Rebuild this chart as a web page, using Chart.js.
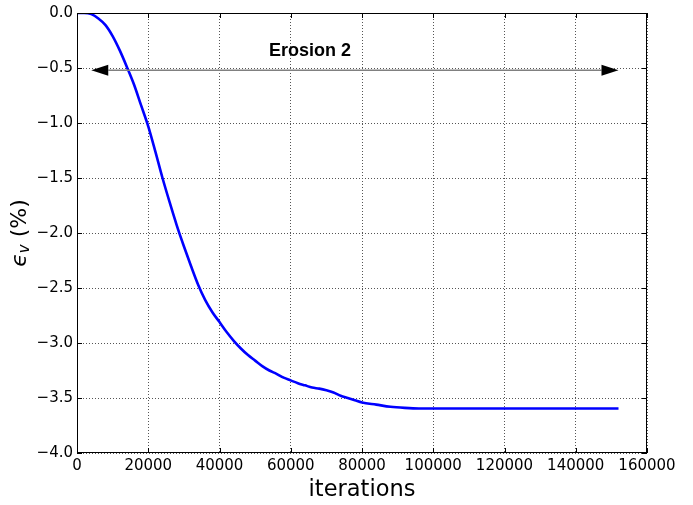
<!DOCTYPE html>
<html>
<head>
<meta charset="utf-8">
<script src="https://cdn.jsdelivr.net/npm/chart.js@4/dist/chart.umd.min.js"></script>
<style>
  html, body { margin: 0; padding: 0; background: #fff; }
  #chart { display: block; }
</style>
</head>
<body>
<canvas id="chart" width="693" height="505"></canvas>
<script>
// 迭代次數
const iterations = [
  0, 2000, 4000, 6000, 8000, 10000, 12000, 14000, 16000, 18000,
  20000, 22000, 24000, 26000, 28000, 30000, 32000, 34000, 36000, 38000,
  40000, 42000, 44000, 46000, 48000, 50000, 52000, 54000, 56000, 58000,
  60000, 62000, 64000, 66000, 68000, 70000, 72000, 74000, 76000, 78000,
  80000, 84000, 88000, 92000, 96000, 100000, 110000, 120000, 130000, 140000, 152000
];

// 體積應變 (%)
const strain = [
  0, 0, -0.01, -0.05, -0.11, -0.21, -0.34, -0.49, -0.65, -0.84,
  -1.03, -1.26, -1.50, -1.72, -1.93, -2.12, -2.30, -2.47, -2.61, -2.72,
  -2.81, -2.90, -2.98, -3.05, -3.11, -3.16, -3.21, -3.25, -3.28, -3.315,
  -3.34, -3.365, -3.385, -3.405, -3.415, -3.43, -3.45, -3.48, -3.50, -3.52,
  -3.54, -3.56, -3.58, -3.59, -3.595, -3.595, -3.595, -3.595, -3.595, -3.595, -3.595
];

// 軸刻度
const xTicks = [0, 20000, 40000, 60000, 80000, 100000, 120000, 140000, 160000];
const yTicks = [-4.0, -3.5, -3.0, -2.5, -2.0, -1.5, -1.0, -0.5, 0.0];

// 標註：Erosion 2 雙向箭頭
const arrowLabel = 'Erosion 2';
const arrowFrom = [4000, -0.52];
const arrowTo = [152000, -0.52];
const labelAt = [65400, -0.345];

const MINUS = '\u2212';
const tickFont = "'DejaVu Sans', sans-serif";

/**
 * 外框、內向刻度、箭頭與軸標題
 */
const decorPlugin = {
  id: 'decor',
  afterDraw(chart) {
    const ctx = chart.ctx;
    const area = chart.chartArea;
    const xs = chart.scales.x;
    const ys = chart.scales.y;

    ctx.save();

    // 外框
    ctx.strokeStyle = '#000';
    ctx.lineWidth = 1;
    ctx.strokeRect(area.left + 0.5, area.top + 0.5, area.right - area.left - 1, area.bottom - area.top - 1);

    // 內向刻度
    ctx.beginPath();
    xTicks.forEach(v => {
      const px = Math.round(xs.getPixelForValue(v)) + 0.5;
      ctx.moveTo(px, area.bottom); ctx.lineTo(px, area.bottom - 5);
      ctx.moveTo(px, area.top); ctx.lineTo(px, area.top + 5);
    });
    yTicks.forEach(v => {
      const py = Math.round(ys.getPixelForValue(v)) + 0.5;
      ctx.moveTo(area.left, py); ctx.lineTo(area.left + 5, py);
      ctx.moveTo(area.right, py); ctx.lineTo(area.right - 5, py);
    });
    ctx.stroke();

    // 雙向箭頭
    const x1 = xs.getPixelForValue(arrowFrom[0]);
    const x2 = xs.getPixelForValue(arrowTo[0]);
    const ay = ys.getPixelForValue(arrowFrom[1]);
    const headLen = 17, headHalf = 5.5;
    ctx.strokeStyle = '#808080';
    ctx.lineWidth = 1.5;
    ctx.beginPath();
    ctx.moveTo(x1 + headLen, ay);
    ctx.lineTo(x2 - headLen, ay);
    ctx.stroke();
    ctx.fillStyle = '#000';
    ctx.beginPath();
    ctx.moveTo(x1, ay);
    ctx.lineTo(x1 + headLen, ay - headHalf);
    ctx.lineTo(x1 + headLen, ay + headHalf);
    ctx.closePath();
    ctx.fill();
    ctx.beginPath();
    ctx.moveTo(x2, ay);
    ctx.lineTo(x2 - headLen, ay - headHalf);
    ctx.lineTo(x2 - headLen, ay + headHalf);
    ctx.closePath();
    ctx.fill();

    // 標註文字
    ctx.fillStyle = '#000';
    ctx.font = "bold 18px 'Liberation Sans', Arial, sans-serif";
    ctx.textAlign = 'center';
    ctx.textBaseline = 'middle';
    ctx.fillText(arrowLabel, xs.getPixelForValue(labelAt[0]), ys.getPixelForValue(labelAt[1]));

    // x 軸標題
    ctx.font = "22.5px " + tickFont;
    ctx.textBaseline = 'middle';
    ctx.fillText('iterations', (area.left + area.right) / 2, 490);

    // y 軸標題 ϵ_v (%)
    ctx.translate(20, (area.top + area.bottom) / 2);
    ctx.rotate(-Math.PI / 2);
    const f1 = "italic 22px " + tickFont;
    const f2 = "italic 15px " + tickFont;
    const f3 = "22px " + tickFont;
    const parts = [['\u03F5', f1, 0], ['v', f2, 5], [' (%)', f3, 0]];
    let total = 0;
    parts.forEach(p => { ctx.font = p[1]; total += ctx.measureText(p[0]).width; });
    let cx = -total / 2;
    ctx.textAlign = 'left';
    ctx.textBaseline = 'middle';
    parts.forEach(p => {
      ctx.font = p[1];
      ctx.fillText(p[0], cx, p[2]);
      cx += ctx.measureText(p[0]).width;
    });

    ctx.restore();
  }
};

new Chart(document.getElementById('chart'), {
  type: 'line',
  data: {
    labels: iterations,
    datasets: [{
      data: iterations.map((x, i) => ({ x: x, y: strain[i] })),
      borderColor: '#0000ff',
      borderWidth: 2.6,
      pointRadius: 0,
      fill: false,
      cubicInterpolationMode: 'monotone'
    }]
  },
  options: {
    responsive: false,
    animation: false,
    layout: { padding: { top: 12, right: 46, left: 0, bottom: 0 } },
    plugins: {
      legend: { display: false },
      tooltip: { enabled: false }
    },
    scales: {
      x: {
        type: 'linear',
        min: 0,
        max: 160000,
        afterFit(scale) { scale.height = 52; },
        afterBuildTicks(scale) { scale.ticks = xTicks.map(v => ({ value: v })); },
        ticks: {
          padding: 4,
          maxRotation: 0,
          autoSkip: false,
          color: '#000',
          font: { family: tickFont, size: 15 },
          callback: v => String(v)
        },
        grid: {
          drawTicks: false,
          color: '#555',
          lineWidth: 1
        },
        border: { display: false, dash: [1, 2] }
      },
      y: {
        min: -4,
        max: 0,
        afterFit(scale) { scale.width = 77; },
        afterBuildTicks(scale) { scale.ticks = yTicks.map(v => ({ value: v })); },
        ticks: {
          padding: 4,
          autoSkip: false,
          color: '#000',
          font: { family: tickFont, size: 15 },
          callback: v => (v < 0 ? MINUS : '') + Math.abs(v).toFixed(1)
        },
        grid: {
          drawTicks: false,
          color: '#555',
          lineWidth: 1
        },
        border: { display: false, dash: [1, 2] }
      }
    }
  },
  plugins: [decorPlugin]
});
</script>
</body>
</html>
